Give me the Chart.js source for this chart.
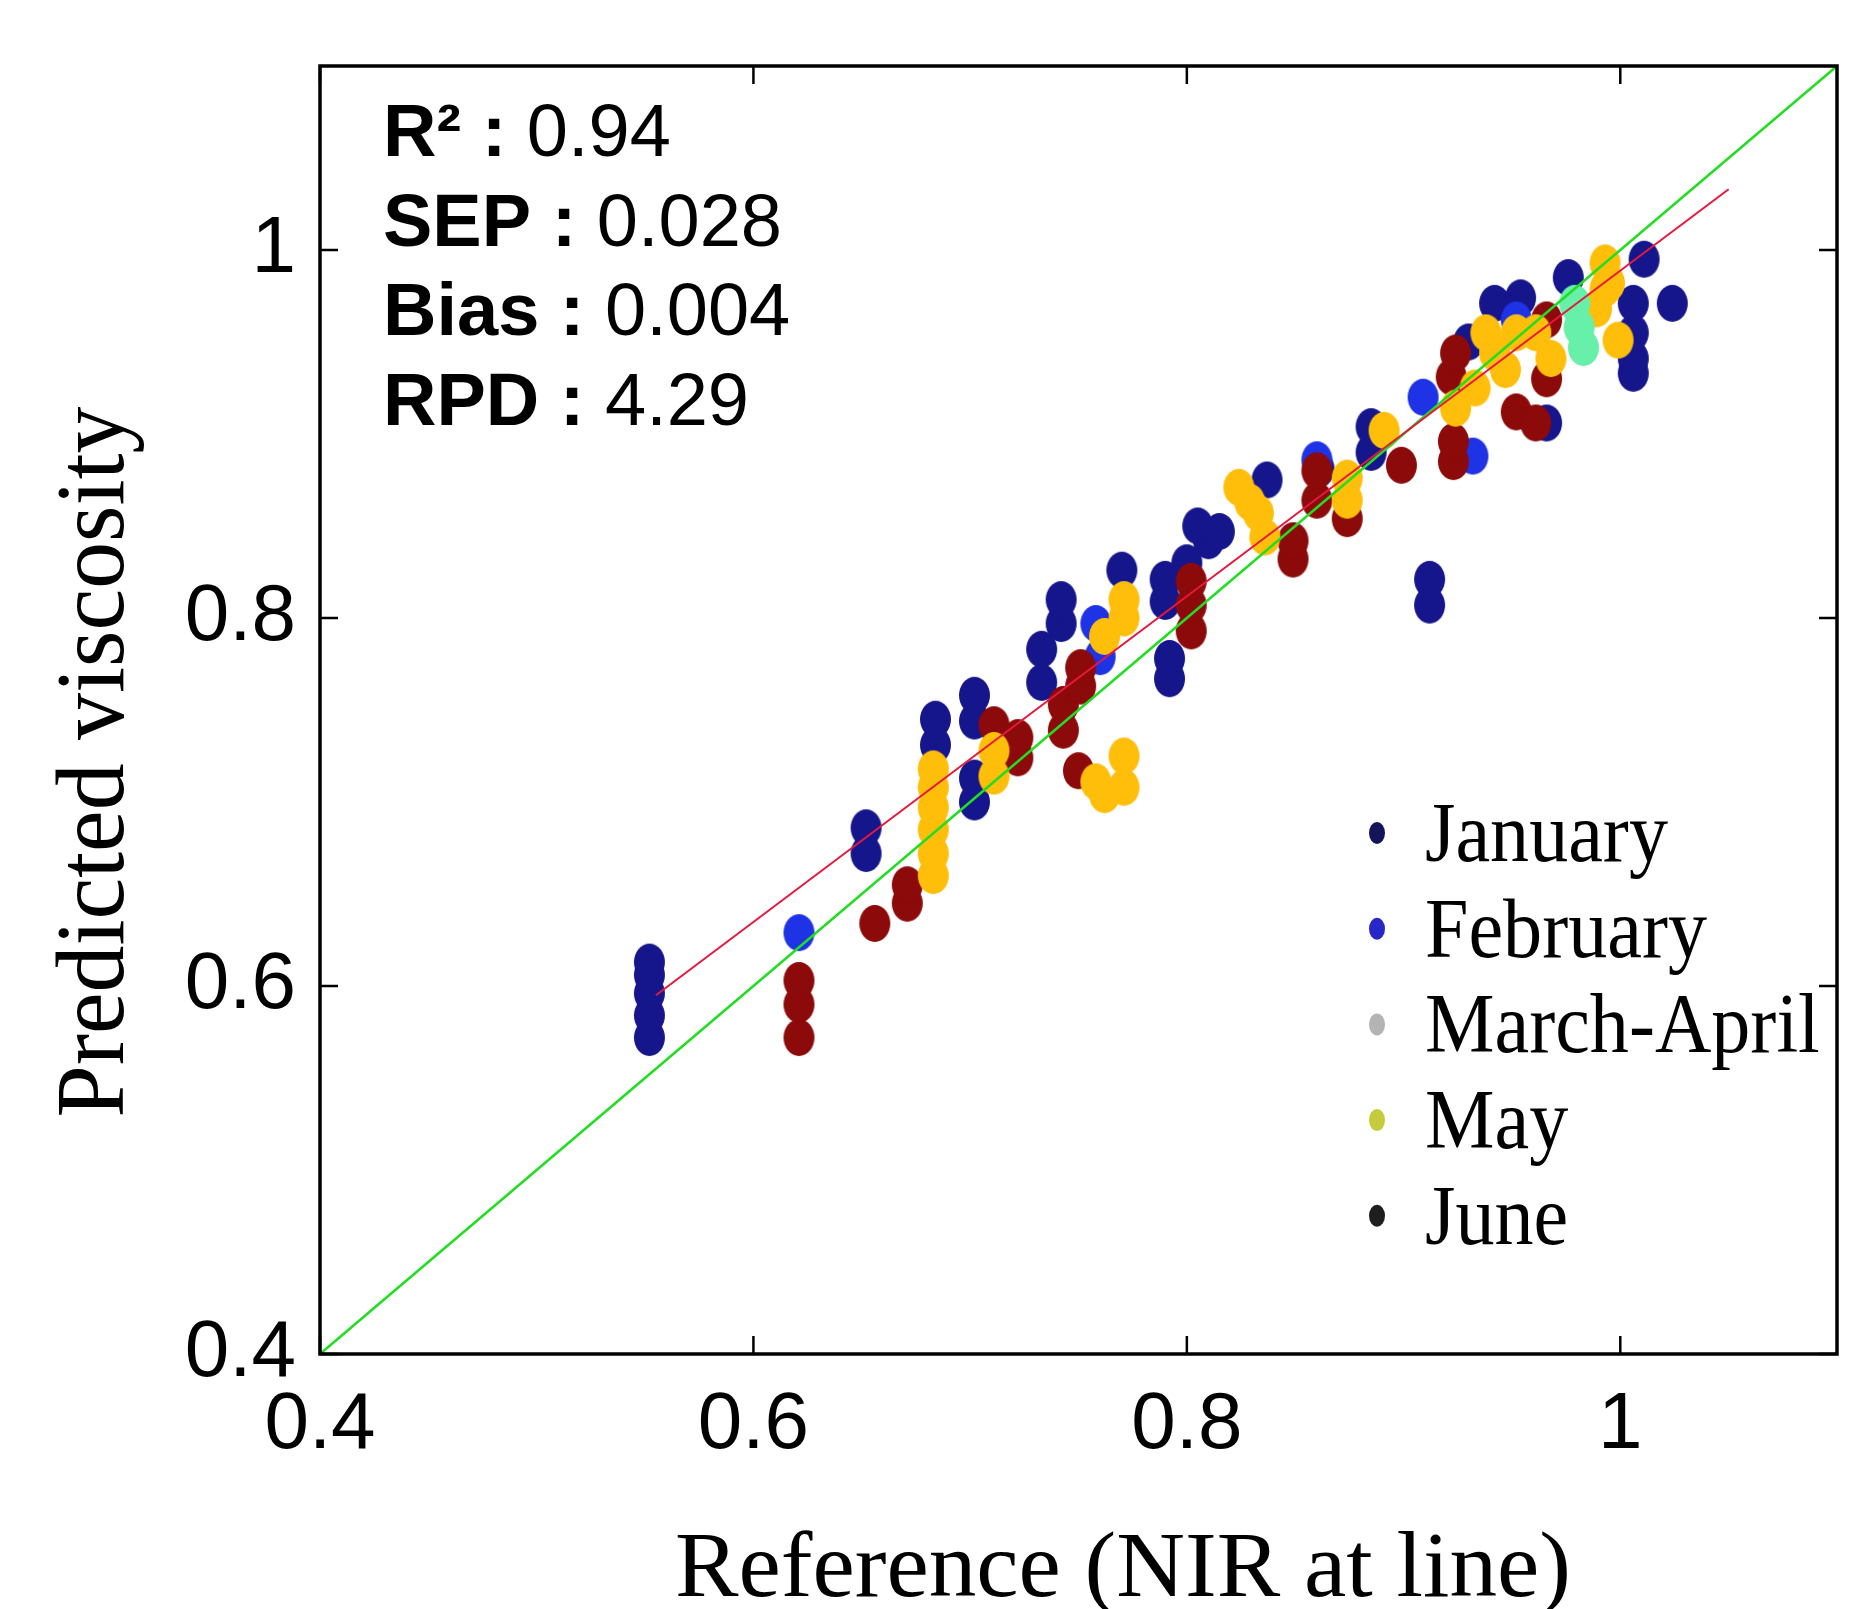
<!DOCTYPE html>
<html>
<head>
<meta charset="utf-8">
<title>Predicted viscosity</title>
<script src="https://cdn.jsdelivr.net/npm/chart.js@4.4.0/dist/chart.umd.min.js"></script>
<style>
    html, body { margin: 0; padding: 0; background: #ffffff; }
</style>
</head>
<body>
<canvas id="chart" width="1874" height="1609"></canvas>
<script>
// values
var xTickValues = [0.4, 0.6, 0.8, 1];
var xTickLabels = ['0.4', '0.6', '0.8', '1'];
var yTickValues = [0.4, 0.6, 0.8, 1];
var yTickLabels = ['0.4', '0.6', '0.8', '1'];

var seriesNames = ['January', 'February', 'March-April', 'May', 'June'];

var januaryPoints = [
    [0.552, 0.572], [0.552, 0.584], [0.552, 0.596], [0.552, 0.606], [0.552, 0.613],
    [0.652, 0.672], [0.652, 0.686],
    [0.684, 0.731], [0.684, 0.745],
    [0.702, 0.700], [0.702, 0.713],
    [0.702, 0.744], [0.702, 0.758],
    [0.733, 0.765], [0.733, 0.783],
    [0.742, 0.797], [0.742, 0.810],
    [0.770, 0.826],
    [0.792, 0.767], [0.792, 0.778],
    [0.790, 0.809], [0.790, 0.821],
    [0.800, 0.830], [0.810, 0.842], [0.805, 0.850], [0.815, 0.847],
    [0.837, 0.875],
    [0.861, 0.881],
    [0.885, 0.890], [0.885, 0.904],
    [0.912, 0.807], [0.912, 0.821],
    [0.930, 0.950],
    [0.942, 0.971], [0.954, 0.974],
    [0.966, 0.906],
    [0.976, 0.985],
    [1.006, 0.933], [1.006, 0.941], [1.006, 0.955], [1.006, 0.971],
    [1.011, 0.995],
    [1.024, 0.971]
];
var februaryPoints = [
    [0.621, 0.629],
    [0.760, 0.779], [0.758, 0.797],
    [0.860, 0.886],
    [0.909, 0.920],
    [0.932, 0.888],
    [0.952, 0.962]
];
var marchAprilPoints = [
    [0.979, 0.971], [0.981, 0.958], [0.983, 0.947]
];
var mayPoints = [
    [0.683, 0.660], [0.683, 0.672], [0.683, 0.685], [0.683, 0.697], [0.683, 0.708], [0.683, 0.718],
    [0.711, 0.714], [0.711, 0.728],
    [0.762, 0.790],
    [0.771, 0.800], [0.771, 0.810],
    [0.758, 0.711], [0.762, 0.704], [0.771, 0.708], [0.771, 0.725],
    [0.824, 0.871], [0.829, 0.863], [0.833, 0.857], [0.836, 0.844],
    [0.874, 0.864], [0.874, 0.876],
    [0.891, 0.902],
    [0.924, 0.914], [0.933, 0.925], [0.938, 0.955], [0.942, 0.944], [0.947, 0.935],
    [0.952, 0.955], [0.961, 0.955], [0.968, 0.941],
    [0.989, 0.968], [0.993, 0.979], [0.993, 0.993], [0.995, 0.982],
    [0.999, 0.951]
];
var junePoints = [
    [0.621, 0.572], [0.621, 0.590], [0.621, 0.603],
    [0.656, 0.634],
    [0.671, 0.645], [0.671, 0.655],
    [0.711, 0.742],
    [0.722, 0.724], [0.722, 0.735],
    [0.743, 0.739], [0.743, 0.753],
    [0.751, 0.763], [0.751, 0.773],
    [0.750, 0.717],
    [0.802, 0.793], [0.802, 0.807], [0.802, 0.820],
    [0.849, 0.832], [0.849, 0.842],
    [0.860, 0.864], [0.860, 0.880],
    [0.874, 0.854],
    [0.899, 0.883],
    [0.923, 0.885], [0.923, 0.896],
    [0.922, 0.931], [0.924, 0.944],
    [0.952, 0.912], [0.961, 0.906], [0.966, 0.930],
    [0.966, 0.962]
];

// fitted line and 1:1 line
var fitLineX = [0.555, 1.05];
var fitLineY = [0.595, 1.033];
var identityLineX = [0.4, 1.1];
var identityLineY = [0.4, 1.1];

var statLabels = ['R\u00b2 :', 'SEP :', 'Bias :', 'RPD :'];
var statValues = ['0.94', '0.028', '0.004', '4.29'];

var xTitle = 'Reference (NIR at line)';
var yTitle = 'Predicted viscosity';

var pointColors = ['#16168c', '#1e32e6', '#66f0aa', '#ffbe0a', '#8c0a0a'];
var legendColors = ['#14145a', '#2828c8', '#b4b4b4', '#c4cc3c', '#1e1e1e'];
// which month ends up on top where they overlap (higher = further back)
var drawOrder = [5, 4, 1, 2, 3];

function toXY(list) {
    var out = [];
    for (var i = 0; i < list.length; i++) {
        out.push({x: list[i][0], y: list[i][1]});
    }
    return out;
}

function pairXY(xs, ys) {
    var out = [];
    for (var i = 0; i < xs.length; i++) {
        out.push({x: xs[i], y: ys[i]});
    }
    return out;
}

// tall oval marker, like the ones in the figure
function ovalMarker(color, w, h) {
    var c = document.createElement('canvas');
    c.width = w;
    c.height = h;
    var g = c.getContext('2d');
    g.fillStyle = color;
    g.beginPath();
    g.ellipse(w / 2, h / 2, w / 2 - 1, h / 2 - 1, 0, 0, Math.PI * 2);
    g.fill();
    return c;
}

function fitText(ctx, text, x, y, width) {
    var natural = ctx.measureText(text).width;
    ctx.save();
    ctx.translate(x, y);
    ctx.scale(width / natural, 1);
    ctx.fillText(text, 0, 0);
    ctx.restore();
}

var sansFont = '"Liberation Sans", Arial, sans-serif';
var serifFont = '"Liberation Serif", "Times New Roman", serif';

var framePlugin = {
    id: 'frame',
    afterDraw: function (chart) {
        var ctx = chart.ctx;
        var area = chart.chartArea;
        var xs = chart.scales.x;
        var ys = chart.scales.y;
        var i;

        ctx.save();
        ctx.strokeStyle = '#000';
        ctx.lineWidth = 3.5;
        ctx.strokeRect(area.left, area.top, area.right - area.left, area.bottom - area.top);

        // inner ticks on all four sides
        ctx.lineWidth = 2.5;
        ctx.beginPath();
        for (i = 0; i < xTickValues.length; i++) {
            var px = xs.getPixelForValue(xTickValues[i]);
            ctx.moveTo(px, area.bottom);
            ctx.lineTo(px, area.bottom - 18);
            ctx.moveTo(px, area.top);
            ctx.lineTo(px, area.top + 18);
        }
        for (i = 0; i < yTickValues.length; i++) {
            var py = ys.getPixelForValue(yTickValues[i]);
            ctx.moveTo(area.left, py);
            ctx.lineTo(area.left + 18, py);
            ctx.moveTo(area.right, py);
            ctx.lineTo(area.right - 18, py);
        }
        ctx.stroke();

        // statistics block
        ctx.fillStyle = '#000';
        ctx.textAlign = 'left';
        ctx.textBaseline = 'alphabetic';
        for (i = 0; i < statLabels.length; i++) {
            var by = 156 + i * 89.5;
            ctx.font = 'bold 74px ' + sansFont;
            ctx.fillText(statLabels[i], 383, by);
            var lw = ctx.measureText(statLabels[i]).width;
            ctx.font = '74px ' + sansFont;
            ctx.fillText(' ' + statValues[i], 383 + lw, by);
        }

        // legend
        for (i = 0; i < seriesNames.length; i++) {
            var ly = 833 + i * 95.7;
            ctx.fillStyle = legendColors[i];
            ctx.beginPath();
            ctx.ellipse(1377, ly, 8, 11, 0, 0, Math.PI * 2);
            ctx.fill();
            ctx.fillStyle = '#000';
            ctx.font = '84px ' + serifFont;
            var tw = ctx.measureText(seriesNames[i]).width;
            fitText(ctx, seriesNames[i], 1425, ly + 28, tw * 0.93);
        }

        // axis titles
        ctx.font = '94px ' + serifFont;
        ctx.textAlign = 'center';
        fitText(ctx, xTitle, 1123, 1596, 896);

        ctx.save();
        ctx.translate(123, 762);
        ctx.rotate(-Math.PI / 2);
        ctx.font = '98px ' + serifFont;
        fitText(ctx, yTitle, 0, 0, 711);
        ctx.restore();

        ctx.restore();
    }
};

var pointSets = [januaryPoints, februaryPoints, marchAprilPoints, mayPoints, junePoints];
var datasets = [];

datasets.push({
    type: 'line',
    label: 'fit',
    data: pairXY(fitLineX, fitLineY),
    borderColor: '#e6183c',
    borderWidth: 2,
    pointRadius: 0,
    fill: false,
    order: 0
});
datasets.push({
    type: 'line',
    label: '1:1',
    data: pairXY(identityLineX, identityLineY),
    borderColor: '#22dd22',
    borderWidth: 2.5,
    pointRadius: 0,
    fill: false,
    order: 0
});

for (var s = 0; s < pointSets.length; s++) {
    datasets.push({
        type: 'scatter',
        label: seriesNames[s],
        data: toXY(pointSets[s]),
        pointStyle: ovalMarker(pointColors[s], 33, 39),
        pointRadius: 17,
        backgroundColor: pointColors[s],
        borderColor: pointColors[s],
        order: drawOrder[s]
    });
}

new Chart(document.getElementById('chart'), {
    data: {datasets: datasets},
    options: {
        responsive: false,
        animation: false,
        devicePixelRatio: 1,
        layout: {padding: {top: 66, right: 37, left: 0, bottom: 0}},
        plugins: {
            legend: {display: false},
            tooltip: {enabled: false}
        },
        scales: {
            x: {
                type: 'linear',
                min: 0.4,
                max: 1.1,
                grid: {display: false, drawTicks: false},
                border: {display: false},
                ticks: {
                    color: '#000',
                    font: {family: sansFont, size: 80},
                    padding: 24,
                    maxRotation: 0,
                    autoSkip: false,
                    callback: function (value, index) {
                        return xTickLabels[index];
                    }
                },
                afterBuildTicks: function (scale) {
                    scale.ticks = xTickValues.map(function (v) { return {value: v}; });
                },
                afterFit: function (scale) {
                    scale.height = 255;
                }
            },
            y: {
                type: 'linear',
                min: 0.4,
                max: 1.1,
                grid: {display: false, drawTicks: false},
                border: {display: false},
                ticks: {
                    color: '#000',
                    font: {family: sansFont, size: 80},
                    padding: 24,
                    autoSkip: false,
                    callback: function (value, index) {
                        return yTickLabels[index];
                    }
                },
                afterBuildTicks: function (scale) {
                    scale.ticks = yTickValues.map(function (v) { return {value: v}; });
                },
                afterFit: function (scale) {
                    scale.width = 320;
                    // top label is not at the edge, so no extra room needed
                    scale.paddingTop = 0;
                }
            }
        }
    },
    plugins: [framePlugin]
});
</script>
</body>
</html>
